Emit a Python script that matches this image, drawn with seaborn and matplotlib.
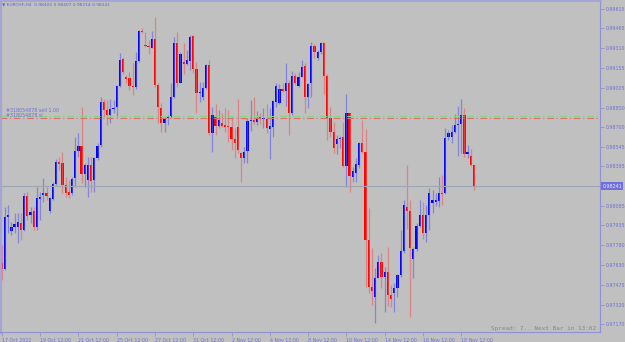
import numpy as np
import pandas as pd
import matplotlib
matplotlib.use("Agg")
import matplotlib.pyplot as plt
import seaborn as sns

# EURCHF H4 bars (oldest first)
opens = [
    0.97641, 0.97594, 0.97998, 0.97895, 0.97920, 0.97926, 0.97957, 0.97900, 0.98164, 0.98016,
    0.98050, 0.97920, 0.98143, 0.98171, 0.98184, 0.98050, 0.98140, 0.98254, 0.98425, 0.98417,
    0.98249, 0.98197, 0.98184, 0.98301, 0.98516, 0.98552, 0.98334, 0.98288, 0.98404, 0.98288,
    0.98461, 0.98557, 0.98896, 0.98831, 0.98792, 0.98836, 0.98852, 0.99018, 0.99225, 0.99085,
    0.99077, 0.99020, 0.99007, 0.99214, 0.99444, 0.99336, 0.99331, 0.99315, 0.99380, 0.99025,
    0.98844, 0.98728, 0.98767, 0.98774, 0.98935, 0.99349, 0.99043, 0.99204, 0.99188, 0.99214,
    0.99406, 0.99147, 0.98961, 0.98935, 0.98999, 0.99181, 0.98650, 0.98785, 0.98707, 0.98728,
    0.98715, 0.98707, 0.98702, 0.98604, 0.98702, 0.98495, 0.98456, 0.98516, 0.98748, 0.98754,
    0.98735, 0.98774, 0.98761, 0.98761, 0.98686, 0.98702, 0.98896, 0.98888, 0.98992, 0.98981,
    0.99038, 0.98805, 0.99095, 0.99018, 0.99090, 0.99173, 0.98935, 0.99038, 0.99328, 0.99232,
    0.99284, 0.99354, 0.99095, 0.98767, 0.98663, 0.98567, 0.98604, 0.98619, 0.98397, 0.98805,
    0.98314, 0.98340, 0.98404, 0.98573, 0.98508, 0.97822, 0.97455, 0.97382, 0.97530, 0.97651,
    0.97538, 0.97576, 0.97395, 0.97413, 0.97452, 0.97548, 0.97737, 0.98081, 0.98050, 0.97672,
    0.97750, 0.97931, 0.98016, 0.97879, 0.98016, 0.98112, 0.98120, 0.98127, 0.98190, 0.98184,
    0.98619, 0.98624, 0.98658, 0.98715, 0.98723, 0.98792, 0.98490, 0.98474, 0.98405,
]
highs = [
    0.97783, 0.98081, 0.98094, 0.97964, 0.98029, 0.98029, 0.98029, 0.98190, 0.98197, 0.98081,
    0.98081, 0.98236, 0.98197, 0.98301, 0.98236, 0.98159, 0.98275, 0.98448, 0.98469, 0.98508,
    0.98314, 0.98288, 0.98314, 0.98624, 0.98650, 0.98852, 0.98417, 0.98469, 0.98469, 0.98469,
    0.98573, 0.98935, 0.98914, 0.98909, 0.98914, 0.98909, 0.99025, 0.99276, 0.99245, 0.99103,
    0.99129, 0.99193, 0.99284, 0.99452, 0.99465, 0.99439, 0.99375, 0.99447, 0.99556, 0.99038,
    0.98883, 0.98779, 0.98792, 0.99038, 0.99400, 0.99439, 0.99284, 0.99349, 0.99297, 0.99413,
    0.99413, 0.99206, 0.99051, 0.99051, 0.99186, 0.99219, 0.98857, 0.98878, 0.98831, 0.98805,
    0.98844, 0.98831, 0.98774, 0.98689, 0.98914, 0.98508, 0.98547, 0.98767, 0.98909, 0.98935,
    0.98823, 0.98805, 0.98844, 0.98878, 0.98844, 0.98909, 0.99038, 0.99033, 0.99038, 0.99199,
    0.99064, 0.99137, 0.99116, 0.99129, 0.99219, 0.99193, 0.99043, 0.99362, 0.99344, 0.99297,
    0.99362, 0.99362, 0.99111, 0.98857, 0.98741, 0.98637, 0.98629, 0.98741, 0.98953, 0.98811,
    0.98391, 0.98456, 0.98585, 0.98754, 0.98681, 0.98068, 0.97757, 0.97602, 0.97706, 0.97719,
    0.97615, 0.97770, 0.97473, 0.97486, 0.97558, 0.97900, 0.98133, 0.98404, 0.98133, 0.97770,
    0.97952, 0.98133, 0.98120, 0.98094, 0.98223, 0.98210, 0.98190, 0.98309, 0.98327, 0.98689,
    0.98676, 0.98715, 0.98800, 0.98862, 0.98914, 0.98844, 0.98560, 0.98526, 0.98407,
]
lows = [
    0.97512, 0.97589, 0.97874, 0.97861, 0.97874, 0.97796, 0.97822, 0.97895, 0.97977, 0.97957,
    0.97900, 0.97900, 0.97977, 0.98120, 0.98133, 0.98034, 0.98133, 0.98249, 0.98366, 0.98184,
    0.98159, 0.98146, 0.98171, 0.98236, 0.98469, 0.98262, 0.98236, 0.98159, 0.98197, 0.98197,
    0.98443, 0.98547, 0.98779, 0.98715, 0.98728, 0.98805, 0.98774, 0.99007, 0.99111, 0.99043,
    0.98986, 0.98948, 0.98992, 0.99206, 0.99426, 0.99323, 0.99266, 0.99310, 0.99012, 0.98728,
    0.98663, 0.98663, 0.98715, 0.98767, 0.98922, 0.99007, 0.99038, 0.99111, 0.99181, 0.99142,
    0.99121, 0.98805, 0.98896, 0.98909, 0.98992, 0.98637, 0.98508, 0.98637, 0.98689, 0.98702,
    0.98663, 0.98585, 0.98521, 0.98456, 0.98495, 0.98275, 0.98422, 0.98422, 0.98671, 0.98723,
    0.98715, 0.98723, 0.98689, 0.98655, 0.98451, 0.98624, 0.98857, 0.98878, 0.98974, 0.98862,
    0.98637, 0.98792, 0.99025, 0.99007, 0.99085, 0.98811, 0.98844, 0.98930, 0.99232, 0.99219,
    0.99266, 0.98955, 0.98598, 0.98624, 0.98495, 0.98490, 0.98534, 0.98391, 0.98236, 0.98197,
    0.98275, 0.98275, 0.98378, 0.98495, 0.97460, 0.97408, 0.97318, 0.97175, 0.97525, 0.97447,
    0.97266, 0.97310, 0.97305, 0.97266, 0.97382, 0.97538, 0.97719, 0.97905, 0.97227, 0.97525,
    0.97739, 0.97926, 0.97827, 0.97809, 0.97900, 0.98029, 0.98086, 0.98081, 0.98094, 0.98179,
    0.98598, 0.98573, 0.98650, 0.98474, 0.98495, 0.98469, 0.98456, 0.98397, 0.98214,
]
closes = [
    0.97594, 0.98003, 0.98016, 0.97926, 0.97946, 0.97964, 0.97900, 0.98164, 0.98008, 0.98042,
    0.97920, 0.98146, 0.98159, 0.98184, 0.98166, 0.98146, 0.98254, 0.98430, 0.98412, 0.98249,
    0.98184, 0.98171, 0.98296, 0.98516, 0.98552, 0.98334, 0.98404, 0.98404, 0.98283, 0.98461,
    0.98552, 0.98896, 0.98831, 0.98792, 0.98836, 0.98849, 0.99018, 0.99219, 0.99129, 0.99069,
    0.99018, 0.99007, 0.99212, 0.99447, 0.99434, 0.99331, 0.99323, 0.99380, 0.99025, 0.98857,
    0.98728, 0.98761, 0.98779, 0.98930, 0.99349, 0.99043, 0.99266, 0.99188, 0.99219, 0.99400,
    0.99147, 0.98966, 0.98974, 0.98999, 0.99181, 0.98650, 0.98792, 0.98707, 0.98754, 0.98710,
    0.98702, 0.98702, 0.98604, 0.98578, 0.98521, 0.98456, 0.98508, 0.98748, 0.98754, 0.98735,
    0.98767, 0.98761, 0.98764, 0.98689, 0.98707, 0.98904, 0.99018, 0.98992, 0.98981, 0.99043,
    0.98805, 0.99095, 0.99043, 0.99090, 0.99168, 0.98935, 0.99033, 0.99328, 0.99284, 0.99284,
    0.99354, 0.99095, 0.98767, 0.98663, 0.98534, 0.98604, 0.98616, 0.98397, 0.98805, 0.98319,
    0.98360, 0.98412, 0.98573, 0.98508, 0.97822, 0.97455, 0.97429, 0.97530, 0.97651, 0.97538,
    0.97576, 0.97395, 0.97367, 0.97452, 0.97548, 0.97737, 0.98091, 0.98050, 0.97757, 0.97750,
    0.97931, 0.98016, 0.97879, 0.98016, 0.98184, 0.98133, 0.98133, 0.98184, 0.98182, 0.98611,
    0.98655, 0.98658, 0.98715, 0.98723, 0.98792, 0.98490, 0.98508, 0.98404, 0.98241,
]

price_ticks = [0.99615, 0.99465, 0.99310, 0.99155, 0.99005, 0.98850, 0.98700, 0.98545,
               0.98395, 0.98085, 0.97935, 0.97780, 0.97630, 0.97475, 0.97320, 0.97170]
date_labels = ["17 Oct 2022", "19 Oct 12:00", "21 Oct 12:00", "25 Oct 12:00", "27 Oct 12:00",
               "31 Oct 12:00", "2 Nov 12:00", "4 Nov 12:00", "8 Nov 12:00", "10 Nov 12:00",
               "14 Nov 12:00", "16 Nov 12:00", "18 Nov 12:00"]

order_open = 0.98787
order_sl = 0.98769
bid = closes[-1]

df = pd.DataFrame({"open": opens, "high": highs, "low": lows, "close": closes})
df["bar"] = np.arange(len(df))
df["up"] = df["close"] >= df["open"]

sns.set_theme(style="white", rc={"axes.facecolor": "#c0c0c0",
                                 "figure.facecolor": "#c0c0c0",
                                 "savefig.facecolor": "#c0c0c0"})
plt.rcParams["font.family"] = ["DejaVu Sans"]

txt = "#7070d4"
axc = "#9090d4"

fig = plt.figure(figsize=(6.25, 3.42), dpi=100)
ax = fig.add_axes([0, 10 / 342, 600 / 625, 332 / 342])

# wicks then bodies
wick_col = np.where(df["up"], "#5c5cf0", "#f05c5c")
ax.vlines(df["bar"], df["low"], df["high"], colors=wick_col, lw=0.9, alpha=0.6)
body_col = np.where(df["up"], "#0000ff", "#ff0000")
body_h = np.maximum((df["close"] - df["open"]).abs(), 0.00005)
body_b = np.minimum(df["open"], df["close"])
ax.bar(df["bar"], body_h, bottom=body_b, width=0.7, color=body_col, linewidth=0)

# order lines and bid line
ax.axhline(order_open, color="#7fd87f", lw=0.8, ls=(0, (6, 2.5, 1, 2.5)))
ax.axhline(order_sl, color="#e06c6c", lw=0.8, ls=(0, (6, 2.5, 1, 2.5)))
ax.axhline(bid, color="#9ea6b2", lw=0.8)
ax.text(1.2, order_open + 0.00020, "#318054878 sell 1.00", color=txt, fontsize=3.4, va="bottom")
ax.text(1.2, order_sl + 0.00001, "#318054878 sl", color=txt, fontsize=3.4, va="bottom")

# header and spread info
ax.text(0.004, 0.993, f"\u25bc EURCHF,H4  {opens[-1]:.5f} {highs[-1]:.5f} {lows[-1]:.5f} {closes[-1]:.5f}",
        transform=ax.transAxes, ha="left", va="top", fontsize=3.2, color="#6464c8")
ax.text(0.993, 0.004, "Spread: 7.. Next Bar in 13:02", transform=ax.transAxes,
        ha="right", va="bottom", fontsize=4.3, color="#858585", family="DejaVu Sans Mono")

# bid price box on the right scale
ax.text(1.004, bid, f"{bid:.5f}", transform=ax.get_yaxis_transform(), ha="left", va="center",
        fontsize=3.4, color="#ececff", clip_on=False,
        bbox=dict(boxstyle="square,pad=0.25", fc="#7070dc", ec="none"))

ax.set_xlim(-0.58, 187.5)
ax.set_ylim(0.97108, 0.99685)

ax.yaxis.tick_right()
ax.set_yticks(price_ticks)
ax.set_yticklabels([f"{p:.5f}" for p in price_ticks])
ax.set_xticks(np.arange(0, 12 * len(date_labels), 12))
ax.set_xticklabels(date_labels)
for lbl in ax.get_xticklabels():
    lbl.set_ha("left")
ax.tick_params(axis="both", direction="out", length=3, width=0.6, color=axc,
               labelsize=3.4, labelcolor=txt, pad=1)
ax.tick_params(axis="y", left=False, right=True)
ax.tick_params(axis="x", bottom=True)

for side in ["left", "top", "right", "bottom"]:
    ax.spines[side].set_visible(True)
    ax.spines[side].set_color(axc)
ax.spines["left"].set_linewidth(3)
ax.spines["left"].set_color("#a4a4d6")
ax.spines["top"].set_linewidth(2)
ax.spines["top"].set_color("#a4a4d6")
ax.spines["right"].set_linewidth(0.8)
ax.spines["bottom"].set_linewidth(0.8)
ax.grid(False)

fig.savefig("out.png", dpi=100)
